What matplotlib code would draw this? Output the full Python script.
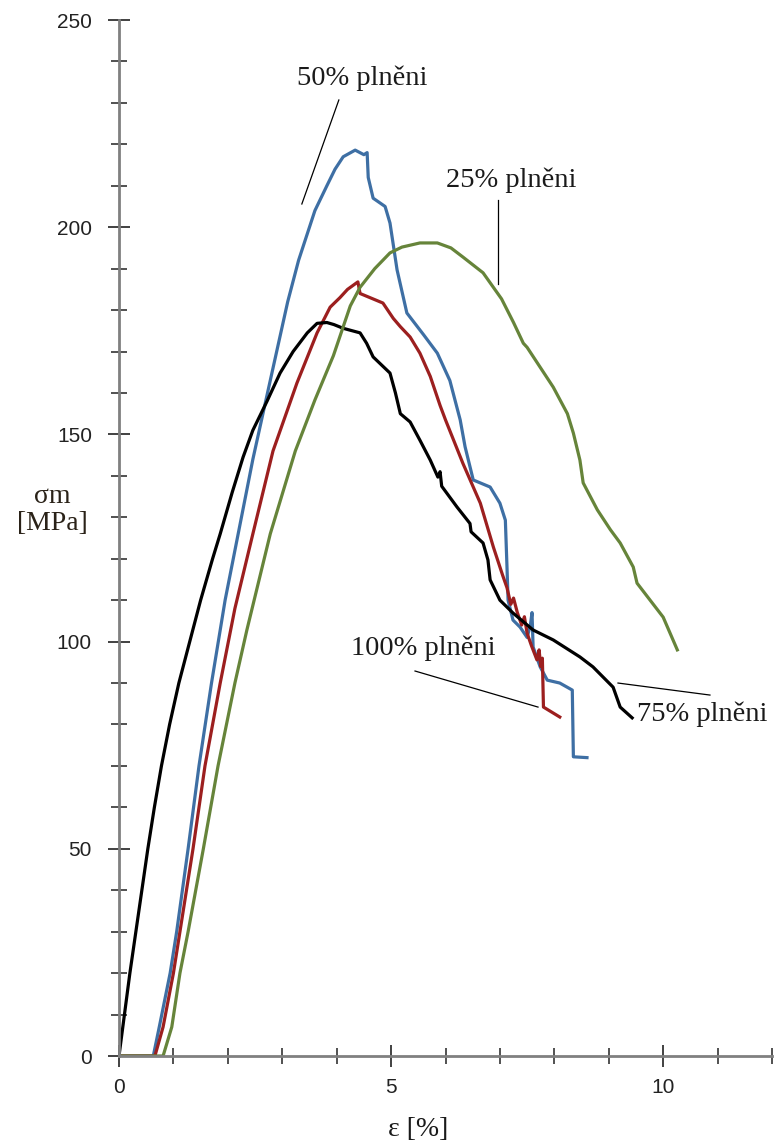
import matplotlib.pyplot as plt
from matplotlib.ticker import MultipleLocator

# --- data (strain in %, stress in MPa) ---
x_75 = [0, 0.1, 0.2, 0.31, 0.42, 0.53, 0.65, 0.78, 0.93, 1.1, 1.3, 1.5, 1.72, 1.86, 2.08,
        2.28, 2.46, 2.72, 2.96, 3.2, 3.46, 3.64, 3.82, 3.95, 4.12, 4.43, 4.55, 4.67, 4.98, 5.08,
        5.17, 5.35, 5.53, 5.72, 5.86, 5.9, 5.93, 6.21, 6.45, 6.47, 6.69, 6.78, 6.82, 7.0, 7.24,
        7.61, 7.98, 8.47, 8.71, 9.08, 9.21, 9.43]
y_75 = [0, 10, 20, 30, 40, 50, 60, 70, 80, 90, 100, 110, 120, 126, 136,
        144.5, 151, 158, 164.8, 170, 174.5, 176.8, 177, 176.5, 175.6, 174.5, 172, 168.7, 164.8, 160,
        155, 153, 148.6, 143.8, 139.7, 141, 137.5, 132.5, 128.5, 126.5, 123.8, 119.7, 114.9, 110, 106.9,
        102.8, 100.4, 96.3, 93.9, 89, 84.2, 81.6]

x_50 = [0, 0.63, 0.74, 0.94, 1.06, 1.27, 1.47, 1.7, 1.95, 2.13, 2.46, 2.83, 3.1, 3.3, 3.45, 3.6,
        3.82, 3.97, 4.12, 4.34, 4.5, 4.56, 4.58, 4.67, 4.89, 4.98, 5.11, 5.29, 5.6, 5.85,
        6.08, 6.27, 6.36, 6.51, 6.82, 7.0, 7.1, 7.13, 7.15, 7.24, 7.37, 7.5, 7.56, 7.59,
        7.61, 7.74, 7.87, 8.1, 8.33, 8.35, 8.6]
y_50 = [0, 0, 7, 20, 30, 50, 70, 90, 110, 122, 144, 166, 182, 192, 198, 204,
        210, 214, 217, 218.6, 217.5, 218, 212, 207, 205, 201, 189.7, 179.3, 174, 169.6,
        163, 153.5, 147, 139, 137.3, 133.4, 129.3, 118, 110, 105.2, 103.5, 101, 104, 107,
        98.7, 93.9, 90.7, 90, 88.3, 72.2, 72]

x_100 = [0, 0.66, 0.81, 1.0, 1.12, 1.36, 1.58, 1.86, 2.13, 2.35, 2.46, 2.83, 3.27, 3.64, 3.88,
         4.06, 4.2, 4.39, 4.43, 4.85, 5.04, 5.17, 5.35, 5.53, 5.72, 5.9, 6.0, 6.32, 6.64, 6.88,
         7.05, 7.13, 7.2, 7.25, 7.32, 7.4, 7.45, 7.5, 7.58, 7.68, 7.72, 7.75, 7.78, 7.8, 8.1]
y_100 = [0, 0, 7, 20, 30, 50, 70, 90, 108, 120, 126, 146, 162.4, 174.5, 180.7,
         183, 185, 186.8, 184, 181.7, 178, 176, 173.5, 169.6, 164, 157, 153.5, 143, 133.4, 122.8,
         116, 113, 109, 110.5, 107, 104, 106, 102, 99, 95.6, 98, 94, 96, 84.2, 81.8]

x_25 = [0, 0.81, 0.97, 1.12, 1.27, 1.55, 1.82, 2.13, 2.35, 2.78, 3.24, 3.6, 3.94, 4.25,
        4.43, 4.7, 4.98, 5.2, 5.53, 5.85, 6.1, 6.32, 6.69, 7.03, 7.25, 7.43, 7.5, 7.7, 7.98,
        8.24, 8.35, 8.47, 8.53, 8.79, 9.03, 9.21, 9.45, 9.52, 9.76, 10.0, 10.26]
y_25 = [0, 0, 7, 20, 30, 50, 70, 90, 102.8, 126, 146, 158.3, 169, 181,
        185.5, 190, 193.8, 195.2, 196.2, 196.2, 195, 192.8, 189, 182.7, 177, 172, 171, 167, 161.4,
        155, 150.3, 143.8, 138.3, 131.8, 127, 123.8, 118, 114.1, 110, 105.9, 98]

labels = ["50% plněni", "25% plněni", "100% plněni", "75% plněni"]
label_pos = [(4.47, 236), (7.21, 211.4), (5.59, 98.5), (10.72, 82.5)]
leader_start = [(4.04, 230.7), (6.97, 206.6), (5.44, 92.9), (9.17, 90.0)]
leader_end = [(3.36, 205.6), (6.97, 186.3), (7.70, 84.2), (10.86, 87.1)]

W, H = 775, 1142
fig = plt.figure(figsize=(W / 100, H / 100), dpi=100)
ax = fig.add_axes([119 / W, 86 / H, 653 / W, 1036 / H])

ax.plot(x_50, y_50, color="#3e6fa4", lw=2.3)
ax.plot(x_100, y_100, color="#9c1f1f", lw=2.3)
ax.plot(x_75, y_75, color="black", lw=2.3)
ax.plot(x_25, y_25, color="#66843a", lw=2.3)

ax.set_xlim(0, 12)
ax.set_ylim(0, 250)

for s in ["top", "right"]:
    ax.spines[s].set_visible(False)
for s in ["left", "bottom"]:
    ax.spines[s].set_color("#808080")
    ax.spines[s].set_linewidth(2)

ax.xaxis.set_major_locator(MultipleLocator(5))
ax.xaxis.set_minor_locator(MultipleLocator(1))
ax.yaxis.set_major_locator(MultipleLocator(50))
ax.yaxis.set_minor_locator(MultipleLocator(10))

ax.tick_params(which="major", direction="inout", length=16, width=1.3, color="#333333",
               labelsize=15, labelcolor="#222222")
ax.tick_params(which="minor", direction="inout", length=11, width=1.2, color="#333333")
ax.tick_params(axis="y", which="major", pad=11.5)
ax.tick_params(axis="x", which="major", pad=8)
for lab in ax.get_xticklabels() + ax.get_yticklabels():
    lab.set_family("Liberation Sans")

serif = "Liberation Serif"
for txt, (tx, ty), (x0, y0), (x1, y1) in zip(labels, label_pos, leader_start, leader_end):
    ax.text(tx, ty, txt, family=serif, fontsize=20.5, ha="center", va="center", color="#1a1a1a")
    ax.plot([x0, x1], [y0, y1], color="black", lw=0.9)

fig.text(418 / W, 1 - 1130 / H, "ε [%]", family=serif, fontsize=20,
         ha="center", va="center", color="#1a1a1a")
fig.text(52 / W, 1 - 510 / H, "σm\n[MPa]", family=serif, fontsize=20,
         ha="center", va="center", multialignment="center", color="#2a2218", linespacing=1.15)

fig.savefig("out.png", dpi=100)
